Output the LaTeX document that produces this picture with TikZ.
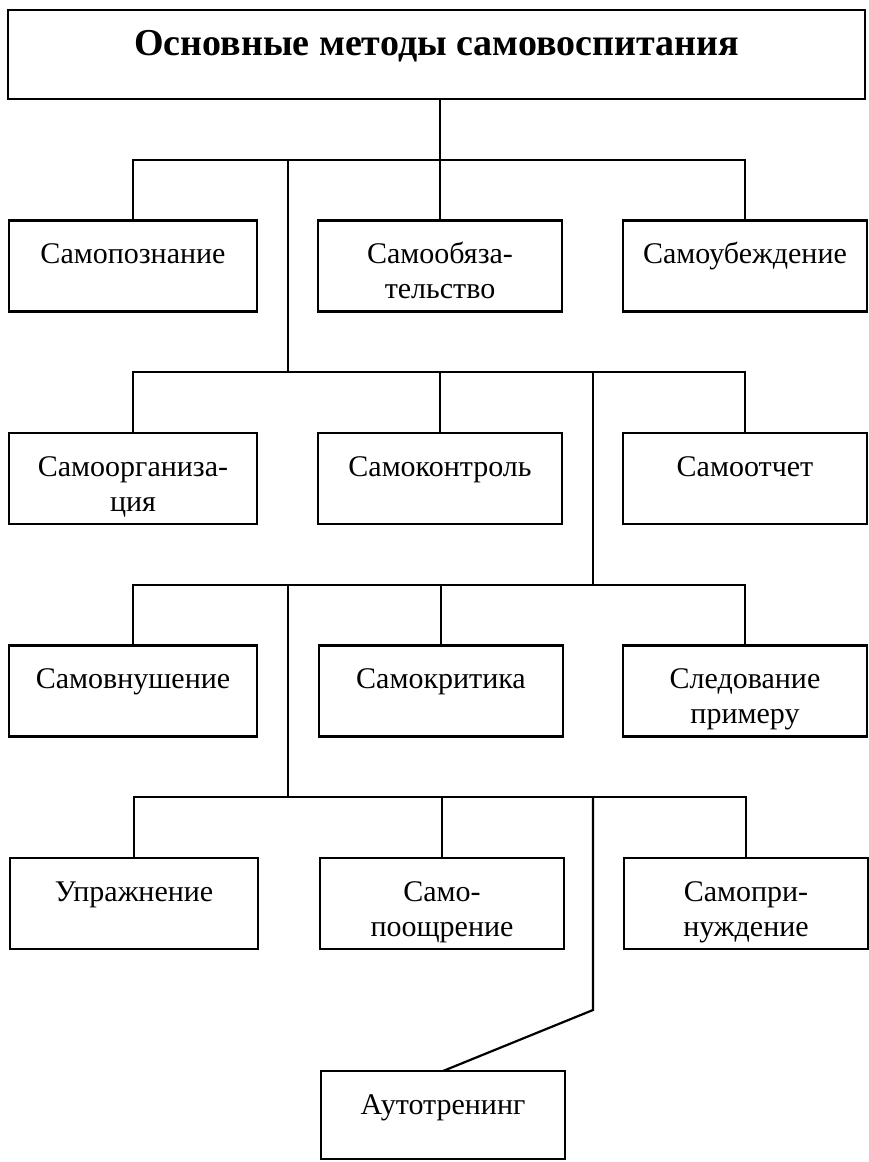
\documentclass[tikz,border=0pt]{standalone}
\usepackage{fontspec}
\setmainfont{Liberation Serif}
\newcommand{\bxt}[3]{\parbox[c][#1pt][t]{#2pt}{\centering\rule{0pt}{43pt}#3}}
\tikzset{
  lw/.style={line width=2.2pt},
  mbox/.style={draw, lw, inner sep=0pt, outer sep=0pt, font=\fontsize{30}{35}\selectfont},
  tbox/.style={draw, lw, inner sep=0pt, outer sep=0pt, font=\fontsize{38}{42}\selectfont\bfseries},
  conn/.style={lw}
}
\begin{document}
\begin{tikzpicture}[x=1pt,y=-1pt]
\useasboundingbox (0,0) rectangle (869,1162);
% title
\node[tbox] (title) at (436.5,54.5) {\parbox[c][89pt][t]{857pt}{\centering\rule{0pt}{45pt}Основные методы самовоспитания}};
% row 1
\node[mbox] (b11) at (133,266) {\bxt{91}{248}{Самопознание}};
\node[mbox] (b12) at (440,266) {\bxt{91}{244}{Самообяза-\\тельство}};
\node[mbox] (b13) at (745,266) {\bxt{91}{244}{Самоубеждение}};
% row 2
\node[mbox] (b21) at (133,478.5) {\bxt{91}{248}{Самоорганиза-\\ция}};
\node[mbox] (b22) at (440,478.5) {\bxt{91}{244}{Самоконтроль}};
\node[mbox] (b23) at (745,478.5) {\bxt{91}{244}{Самоотчет}};
% row 3
\node[mbox] (b31) at (133,691) {\bxt{91}{248}{Самовнушение}};
\node[mbox] (b32) at (441,691) {\bxt{91}{244}{Самокритика}};
\node[mbox] (b33) at (745,691) {\bxt{91}{244}{Следование\\примеру}};
% row 4
\node[mbox] (b41) at (134,903.5) {\bxt{91}{248}{Упражнение}};
\node[mbox] (b42) at (442,903.5) {\bxt{91}{244}{Само-\\поощрение}};
\node[mbox] (b43) at (746,903.5) {\bxt{91}{244}{Самопри-\\нуждение}};
% autotraining
\node[mbox] (b5) at (443,1115) {\bxt{88}{244}{Аутотренинг}};
% junctions
\coordinate (t1) at (288,160);
\coordinate (t2) at (288,372);
\coordinate (t3) at (593,372);
\coordinate (t4) at (593,585);
\coordinate (t5) at (288,585);
\coordinate (t6) at (288,797);
\coordinate (t7) at (593,797);
\coordinate (t8) at (593,1010);
% level 1
\draw[conn] (b12.north) -- (b12.north |- title.south);
\draw[conn] (b11.north) -- (b11.north |- t1) -- (b13.north |- t1) -- (b13.north);
\draw[conn] (t1) -- (t2);
% level 2
\draw[conn] (b21.north) -- (b21.north |- t2) -- (b23.north |- t2) -- (b23.north);
\draw[conn] (b22.north) -- (b22.north |- t2);
\draw[conn] (t3) -- (t4);
% level 3
\draw[conn] (b31.north) -- (b31.north |- t5) -- (b33.north |- t5) -- (b33.north);
\draw[conn] (b32.north) -- (b32.north |- t5);
\draw[conn] (t5) -- (t6);
% level 4
\draw[conn] (b41.north) -- (b41.north |- t6) -- (b43.north |- t6) -- (b43.north);
\draw[conn] (b42.north) -- (b42.north |- t6);
\draw[conn] (t7) -- (t8) -- (b5.north);
\end{tikzpicture}
\end{document}
